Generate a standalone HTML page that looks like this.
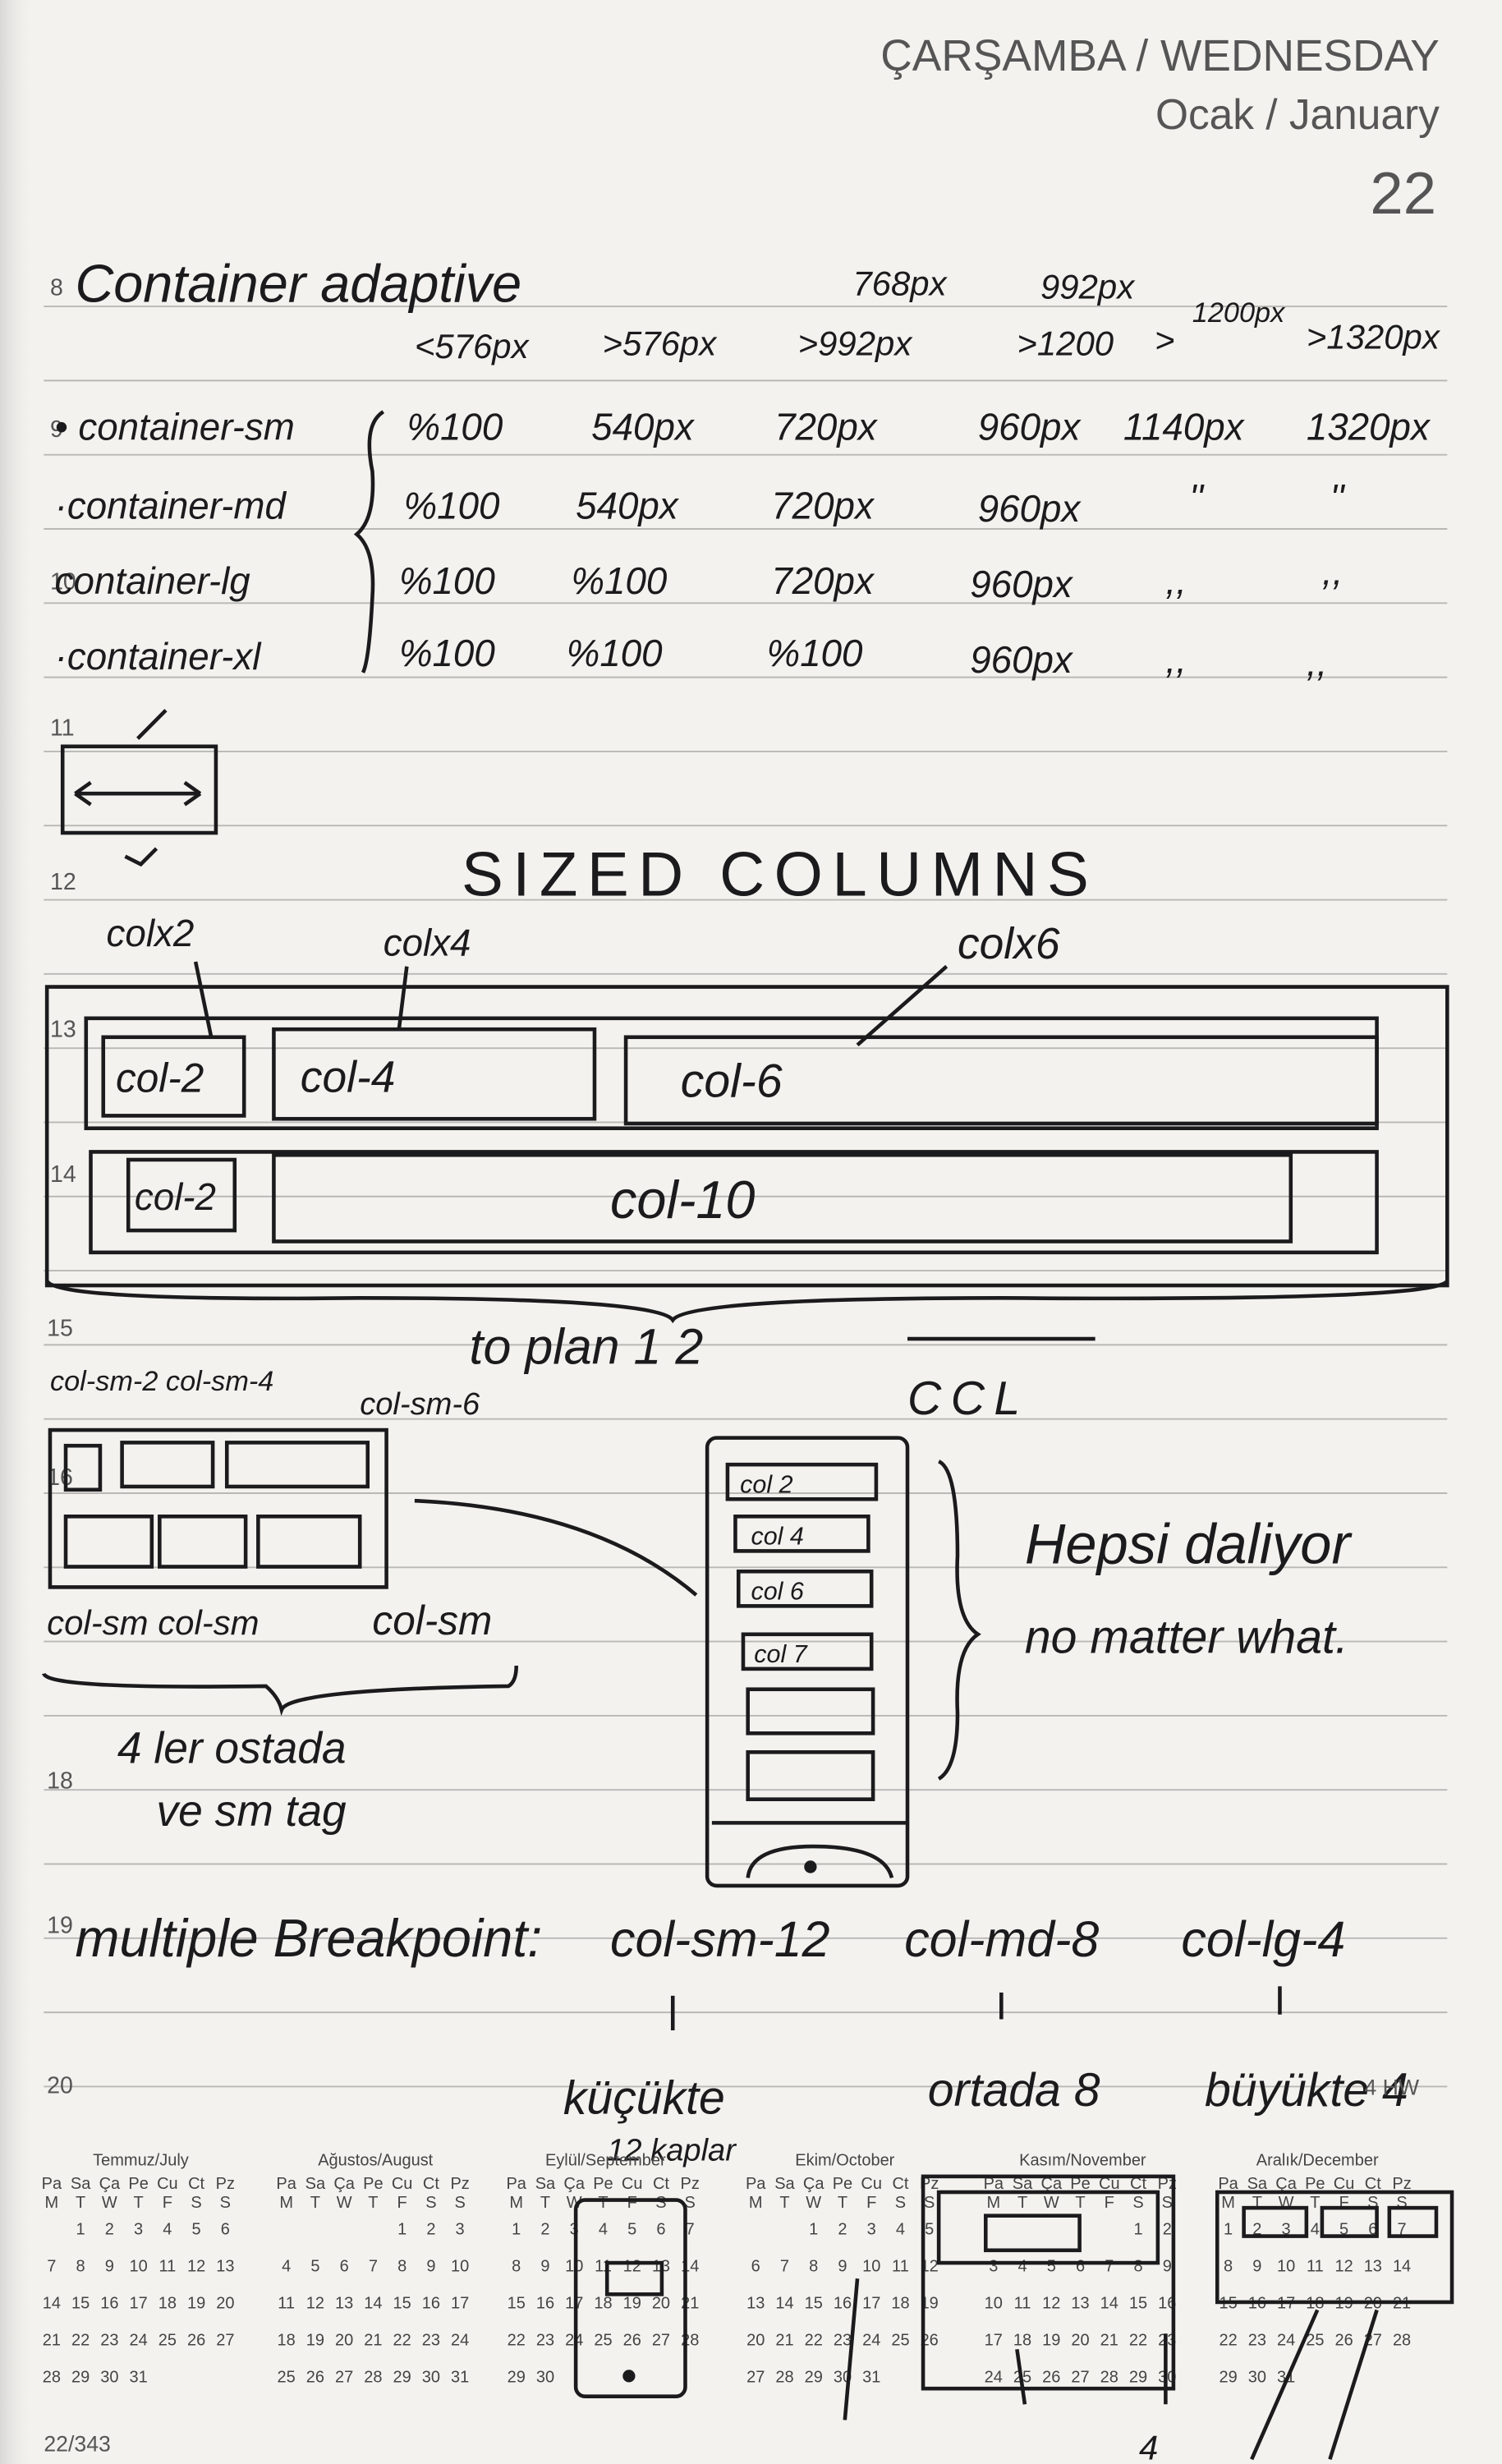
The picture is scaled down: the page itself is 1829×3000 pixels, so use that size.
<!DOCTYPE html>
<html><head><meta charset="utf-8">
<style>
html,body{margin:0;padding:0;background:#f2f1ee;}
svg{display:block;}
.hw{font-family:"Liberation Sans",sans-serif;fill:#1b1b1d;font-style:italic;}
.pr{font-family:"Liberation Sans",sans-serif;fill:#555;}
.cal{font-family:"Liberation Sans",sans-serif;fill:#444;font-size:10.5px;}
.ln{stroke:#1b1b1d;stroke-width:2.4;fill:none;}
</style></head>
<body>
<svg id="page" width="1829" height="3000" viewBox="0 0 960 1568" preserveAspectRatio="none" xmlns="http://www.w3.org/2000/svg">
<defs><linearGradient id="edge" x1="0" x2="1"><stop offset="0" stop-color="#d8d7d4"/><stop offset="1" stop-color="#f2f1ee" stop-opacity="0"/></linearGradient></defs>
<rect width="960" height="1568" fill="#f3f2ef"/>
<rect width="22" height="1568" fill="url(#edge)"/>
<g id="rules"></g>

<g>
<text class="pr" x="920" y="45" font-size="28" text-anchor="end" fill="#444">ÇARŞAMBA / WEDNESDAY</text>
<text class="pr" x="920" y="82" font-size="27" text-anchor="end" fill="#444">Ocak / January</text>
<text class="pr" x="918" y="136" font-size="38" text-anchor="end" fill="#333">22</text>
</g>

<g class="pr" font-size="15" fill="#777">
<text x="32" y="188">8</text><text x="32" y="278">9</text><text x="32" y="375">10</text><text x="32" y="468">11</text>
<text x="32" y="566">12</text><text x="32" y="660">13</text><text x="32" y="752">14</text><text x="30" y="850">15</text>
<text x="30" y="945">16</text><text x="30" y="1138">18</text><text x="30" y="1230">19</text><text x="30" y="1332">20</text>
</g>

<g class="hw">
<text x="48" y="192" font-size="34">Container adaptive</text>
<text x="545" y="188" font-size="22">768px</text><text x="665" y="190" font-size="22">992px</text>
<text x="762" y="205" font-size="18">1200px</text>
<text x="265" y="228" font-size="22">&lt;576px</text><text x="385" y="226" font-size="22">&gt;576px</text>
<text x="510" y="226" font-size="22">&gt;992px</text><text x="650" y="226" font-size="22">&gt;1200</text>
<text x="738" y="224" font-size="22">&gt;</text><text x="835" y="222" font-size="22">&gt;1320px</text>
<g font-size="24">
<text x="35" y="280">• container-sm</text><text x="260" y="280">%100</text><text x="378" y="280">540px</text><text x="495" y="280">720px</text><text x="625" y="280">960px</text><text x="718" y="280">1140px</text><text x="835" y="280">1320px</text>
<text x="35" y="330">·container-md</text><text x="258" y="330">%100</text><text x="368" y="330">540px</text><text x="493" y="330">720px</text><text x="625" y="332">960px</text><text x="760" y="325">''</text><text x="850" y="325">''</text>
<text x="35" y="378">container-lg</text><text x="255" y="378">%100</text><text x="365" y="378">%100</text><text x="493" y="378">720px</text><text x="620" y="380">960px</text><text x="745" y="378">,,</text><text x="845" y="372">,,</text>
<text x="35" y="426">·container-xl</text><text x="255" y="424">%100</text><text x="362" y="424">%100</text><text x="490" y="424">%100</text><text x="620" y="428">960px</text><text x="745" y="428">,,</text><text x="835" y="430">,,</text>
</g>
</g>
<path class="ln" d="M245 262 Q232 270 238 300 Q240 330 228 340 Q240 350 238 380 Q236 420 232 428"/>

<g>
<rect class="ln" x="40" y="475" width="98" height="55"/>
<path class="ln" d="M48 505 H128 M48 505 l10 -7 M48 505 l10 7 M128 505 l-10 -7 M128 505 l-10 7 M88 470 l18 -18 M100 540 l-10 10 l-10 -5"/>
</g>

<g class="hw">
<text x="295" y="570" font-size="40" letter-spacing="6" font-style="normal">SIZED COLUMNS</text>
<text x="68" y="602" font-size="24">colx2</text><text x="245" y="608" font-size="24">colx4</text><text x="612" y="610" font-size="28">colx6</text>
<path class="ln" d="M125 612 L135 660 M260 615 L255 655 M605 615 L548 665"/>
<rect class="ln" x="30" y="628" width="895" height="190"/>
<rect class="ln" x="55" y="648" width="825" height="70"/>
<rect class="ln" x="66" y="660" width="90" height="50"/><text x="74" y="695" font-size="26">col-2</text>
<rect class="ln" x="175" y="655" width="205" height="57"/><text x="192" y="695" font-size="28">col-4</text>
<rect class="ln" x="400" y="660" width="480" height="55"/><text x="435" y="698" font-size="30">col-6</text>
<rect class="ln" x="58" y="733" width="822" height="64"/>
<rect class="ln" x="82" y="738" width="68" height="45"/><text x="86" y="770" font-size="24">col-2</text>
<rect class="ln" x="175" y="735" width="650" height="55"/><text x="390" y="775" font-size="34">col-10</text>
<path class="ln" d="M30 815 Q35 828 230 826 Q420 826 430 840 Q440 826 640 826 Q920 828 925 815"/>
</g>

<g class="hw">
<text x="32" y="885" font-size="18">col-sm-2 col-sm-4</text>
<text x="230" y="900" font-size="20">col-sm-6</text>
<text x="300" y="868" font-size="32">to plan 1 2</text>
<path class="ln" d="M580 852 H700"/><text x="580" y="900" font-size="30" letter-spacing="6">CCL</text>
<rect class="ln" x="32" y="910" width="215" height="100"/>
<rect class="ln" x="42" y="920" width="22" height="28"/><rect class="ln" x="78" y="918" width="58" height="28"/><rect class="ln" x="145" y="918" width="90" height="28"/>
<rect class="ln" x="42" y="965" width="55" height="32"/><rect class="ln" x="102" y="965" width="55" height="32"/><rect class="ln" x="165" y="965" width="65" height="32"/>
<path class="ln" d="M265 955 Q380 960 445 1015"/>
<text x="30" y="1040" font-size="22">col-sm  col-sm</text><text x="238" y="1040" font-size="26">col-sm</text>
<path class="ln" d="M28 1065 Q30 1075 170 1073 Q178 1080 180 1088 Q185 1075 325 1073 Q330 1070 330 1060"/>
<text x="75" y="1122" font-size="28">4 ler ostada</text><text x="100" y="1162" font-size="28">ve sm tag</text>
<rect class="ln" x="452" y="915" width="128" height="285" rx="6"/>
<rect class="ln" x="465" y="932" width="95" height="22"/><text x="473" y="950" font-size="16">col 2</text>
<rect class="ln" x="470" y="965" width="85" height="22"/><text x="480" y="983" font-size="16">col 4</text>
<rect class="ln" x="472" y="1000" width="85" height="22"/><text x="480" y="1018" font-size="16">col 6</text>
<rect class="ln" x="475" y="1040" width="82" height="22"/><text x="482" y="1058" font-size="16">col 7</text>
<rect class="ln" x="478" y="1075" width="80" height="28"/><rect class="ln" x="478" y="1115" width="80" height="30"/>
<path class="ln" d="M455 1160 H580 M478 1195 Q480 1175 520 1175 Q565 1175 570 1195"/>
<circle cx="518" cy="1188" r="4" fill="#1b1b1d"/>
<path class="ln" d="M600 930 Q612 935 612 990 Q610 1030 625 1040 Q610 1050 612 1090 Q612 1125 600 1132"/>
<text x="655" y="995" font-size="36">Hepsi daliyor</text><text x="655" y="1052" font-size="30">no matter what.</text>
</g>

<g class="hw">
<text x="48" y="1245" font-size="34">multiple Breakpoint:</text>
<text x="390" y="1245" font-size="32">col-sm-12</text><text x="578" y="1245" font-size="32">col-md-8</text><text x="755" y="1245" font-size="32">col-lg-4</text>
<path class="ln" d="M430 1270 V1292 M640 1268 V1285 M818 1264 V1282"/>
<text x="360" y="1345" font-size="30">küçükte</text><text x="388" y="1375" font-size="20">12 kaplar</text>
<text x="593" y="1340" font-size="30">ortada 8</text><text x="770" y="1340" font-size="30">büyükte 4</text>
<text class="pr" x="872" y="1333" font-size="14" font-style="normal">4 HW</text>
</g>

<g id="calendar"></g>

<g>
<rect class="ln" x="368" y="1400" width="70" height="125" rx="6"/><rect class="ln" x="388" y="1440" width="35" height="20"/><circle cx="402" cy="1512" r="4" fill="#1b1b1d"/>
<rect class="ln" x="590" y="1385" width="160" height="135"/><rect class="ln" x="600" y="1395" width="140" height="45"/><rect class="ln" x="630" y="1410" width="60" height="22"/>
<rect class="ln" x="778" y="1395" width="150" height="70"/><rect class="ln" x="795" y="1405" width="40" height="18"/><rect class="ln" x="845" y="1405" width="35" height="18"/><rect class="ln" x="888" y="1405" width="30" height="18"/>
<path class="ln" d="M540 1540 L548 1450 M650 1495 L655 1530 M745 1530 L745 1485 M800 1565 L842 1470 M850 1565 L880 1470"/>
<text class="hw" x="728" y="1565" font-size="22">4</text>
</g>

<text class="pr" x="28" y="1560" font-size="14" fill="#666">22/343</text>
</svg>
<script>
const ns="http://www.w3.org/2000/svg";
const rules=document.getElementById('rules');
for(let k=0;k<25;k++){
  const y=195+47.2*k;
  const l=document.createElementNS(ns,'line');
  
  
  l.setAttribute('x1',28);l.setAttribute('x2',925);l.setAttribute('y1',y);l.setAttribute('y2',y);
  l.setAttribute('stroke','#b9b8b5');l.setAttribute('stroke-width','1');
  rules.appendChild(l);
}
const monthNames=["Temmuz/July","Ağustos/August","Eylül/September","Ekim/October","Kasım/November","Aralık/December"];
const monthStarts=[1,4,0,2,5,0];
const monthDays=[31,31,30,31,30,31];
const cal=document.getElementById('calendar');
const xs=[28,178,325,478,630,780];
const dh1=["Pa","Sa","Ça","Pe","Cu","Ct","Pz"],dh2=["M","T","W","T","F","S","S"];
function t(x,y,s,anchor,fs){const e=document.createElementNS(ns,'text');e.setAttribute('x',x);e.setAttribute('y',y);e.setAttribute('class','cal');if(anchor)e.setAttribute('text-anchor',anchor);if(fs)e.setAttribute('font-size',fs);e.textContent=s;cal.appendChild(e);return e;}
monthNames.forEach((m,i)=>{
  const x0=xs[i];
  const tt=t(x0+62,1378,m,'middle',12);
  
  
  for(let d=0;d<7;d++){t(x0+5+d*18.5,1393,dh1[d],'middle',9.5);t(x0+5+d*18.5,1405,dh2[d],'middle',9.5);}
  let col=monthStarts[i],row=0;
  for(let d=1;d<=monthDays[i];d++){
    t(x0+5+col*18.5,1422+row*23.5,String(d),'middle',11);
    col++;if(col>6){col=0;row++;}
  }
});
</script>
</body></html>
